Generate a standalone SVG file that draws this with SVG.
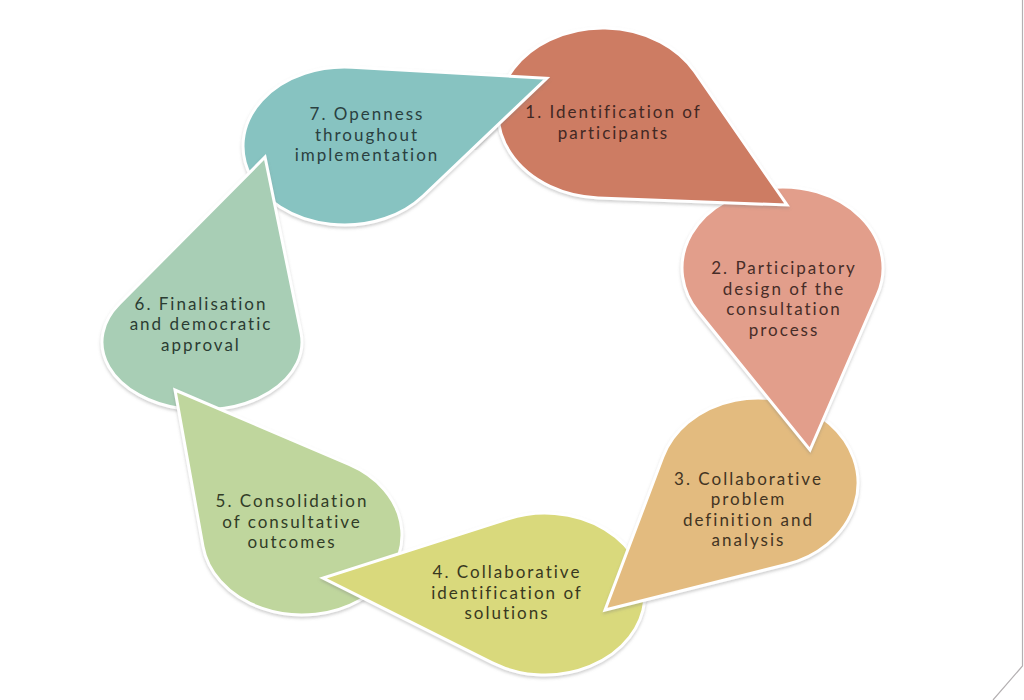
<svg xmlns="http://www.w3.org/2000/svg" xmlns:xlink="http://www.w3.org/1999/xlink" width="1024" height="700" viewBox="0 0 1024 700">
  <style>
    .shape { stroke: #ffffff; stroke-width: 3; stroke-linejoin: miter; filter: url(#shadow); }
    .label { font-family: Lato, "Open Sans", "DejaVu Sans", sans-serif; font-size: 17px; text-anchor: middle; letter-spacing: 2px; }
    .frame { fill: none; stroke: #b4b0b2; stroke-width: 1.2; }
  </style>
  <defs>
    <filter id="shadow" x="-10%" y="-10%" width="130%" height="130%">
      <feDropShadow dx="0" dy="2" stdDeviation="1.8" flood-color="#7a7a7a" flood-opacity="0.35"/>
    </filter>
    <clipPath id="clip7tip">
      <rect x="470" y="50" width="95" height="100"/>
    </clipPath>
  </defs>
  <rect x="0" y="0" width="1024" height="700" fill="#ffffff"/>
  <path class="frame" d="M1022.5,0 L1022.5,666 L993,700"/>

  <g id="node7">
    <path id="p7" class="shape" fill="#87c3c1" d="M423.1,196 A101.5 79 0 1 1 351.9,67.2 L546.7,78.3 Z"/>
    <text class="label" fill="#2a4040"><tspan x="367" y="120">7. Openness</tspan><tspan x="367" y="140.5">throughout</tspan><tspan x="367" y="161">implementation</tspan></text>
  </g>
  <g id="node6">
    <path class="shape" fill="#a8ceb5" d="M301,332.6 A100 68 0 1 1 119.1,304 L265,157 Z"/>
    <text class="label" fill="#2b3c32"><tspan x="201" y="309.5">6. Finalisation</tspan><tspan x="201" y="330">and democratic</tspan><tspan x="201" y="350.5">approval</tspan></text>
  </g>
  <g id="node5">
    <path class="shape" fill="#bfd69d" d="M349.1,464.4 A100 80 0 1 1 203,546.4 L175,390 Z"/>
    <text class="label" fill="#313c27"><tspan x="292" y="507">5. Consolidation</tspan><tspan x="292" y="527.5">of consultative</tspan><tspan x="292" y="548">outcomes</tspan></text>
  </g>
  <g id="node4">
    <path class="shape" fill="#d9d97b" d="M508.2,518.7 A100 81 0 1 1 492.4,662.9 L323,578 Z"/>
    <text class="label" fill="#38381f"><tspan x="507" y="578">4. Collaborative</tspan><tspan x="507" y="598.5">identification of</tspan><tspan x="507" y="619">solutions</tspan></text>
  </g>
  <g id="node3">
    <path class="shape" fill="#e3bb7f" d="M662.8,457 A100 85 0 1 1 786.3,564.5 L605,610 Z"/>
    <text class="label" fill="#423423"><tspan x="748.5" y="484.5">3. Collaborative</tspan><tspan x="748.5" y="505">problem</tspan><tspan x="748.5" y="525.5">definition and</tspan><tspan x="748.5" y="546">analysis</tspan></text>
  </g>
  <g id="node2">
    <path class="shape" fill="#e29e8b" d="M698.4,312.3 A100.5 81 0 1 1 877.4,294.7 L810,450 Z"/>
    <text class="label" fill="#472d28"><tspan x="784" y="274">2. Participatory</tspan><tspan x="784" y="294.5">design of the</tspan><tspan x="784" y="315">consultation</tspan><tspan x="784" y="335.5">process</tspan></text>
  </g>
  <g id="node1">
    <path class="shape" fill="#cd7b64" d="M598.1,197.9 A105 85 0 1 1 694.6,71.5 L787,205 Z"/>
    <text class="label" fill="#422823"><tspan x="613.5" y="118">1. Identification of</tspan><tspan x="613.5" y="138.5">participants</tspan></text>
  </g>
  <g id="node7-tip">
    <use xlink:href="#p7" href="#p7" clip-path="url(#clip7tip)"/>
  </g>
</svg>
